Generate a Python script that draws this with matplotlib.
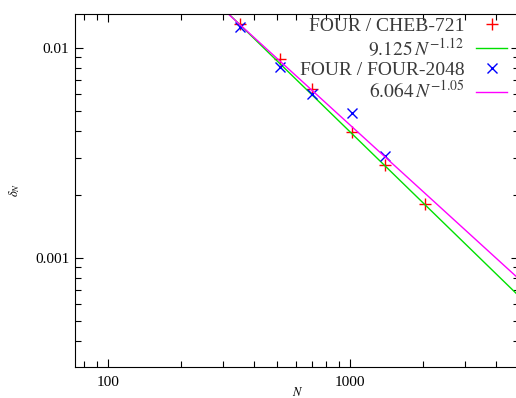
import numpy as np
import matplotlib
matplotlib.use('Agg')
import matplotlib.pyplot as plt
from matplotlib.ticker import NullFormatter, LogLocator

plt.rcParams['font.family'] = ['Liberation Serif', 'DejaVu Serif']
plt.rcParams['mathtext.fontset'] = 'stix'

# data
n_cheb = np.array([350, 512, 700, 1024, 1400, 2048])
d_cheb = np.array([0.0130, 0.00881, 0.00636, 0.00396, 0.00276, 0.00180])
n_four = np.array([350, 512, 700, 1024, 1400])
d_four = np.array([0.0126, 0.00812, 0.00602, 0.00490, 0.00305])

fit_cheb = (9.125, -1.12)
fit_four = (6.064, -1.05)

labels = ['FOUR / CHEB-721', r'$9.125\,N^{-1.12}$',
          'FOUR / FOUR-2048', r'$6.064\,N^{-1.05}$']
xticks = [100, 1000]
xticklabels = ['100', '1000']
yticks = [0.001, 0.01]
yticklabels = ['0.001', '0.01']

fig = plt.figure(figsize=(5.16, 3.98), dpi=100)
ax = fig.add_axes([75/516, 1 - 367.3/398, 444/516, 353.3/398])

nn = np.logspace(np.log10(60), np.log10(6000), 200)
ax.plot(n_cheb, d_cheb, ls='none', marker='+', ms=8, mew=1, color='#ff0000', label=labels[0])
ax.plot(nn, fit_cheb[0]*nn**fit_cheb[1], color='#00e000', lw=1, label=labels[1])
ax.plot(n_four, d_four, ls='none', marker='x', ms=7, mew=1, color='#0000ff', label=labels[2])
ax.plot(nn, fit_four[0]*nn**fit_four[1], color='#ff00ff', lw=1, label=labels[3])

ax.set_xscale('log')
ax.set_yscale('log')
ax.set_xlim(73.1, 5000)
ax.set_ylim(3.01e-4, 0.01447)

ax.set_xticks(xticks, xticklabels)
ax.set_yticks(yticks, yticklabels)
ax.xaxis.set_minor_locator(LogLocator(base=10, subs=np.arange(2, 10)))
ax.yaxis.set_minor_locator(LogLocator(base=10, subs=np.arange(2, 10)))
ax.xaxis.set_minor_formatter(NullFormatter())
ax.yaxis.set_minor_formatter(NullFormatter())
ax.tick_params(which='both', direction='in', top=True, right=True,
               labelsize=11, colors='black')
ax.tick_params(which='major', length=6, width=0.8)
ax.tick_params(which='minor', length=4, width=0.8)
ax.tick_params(axis='x', pad=6)
ax.tick_params(axis='y', pad=4)

ax.set_xlabel(r'$N$', fontsize=9)
ax.set_ylabel(r'$\delta_N$', fontsize=9)
ax.xaxis.set_label_coords(223/444, -19/353.3)
ax.yaxis.set_label_coords(-53/444, 177/353.3)

leg = ax.legend(loc='upper right', bbox_to_anchor=(446/444, 1.03), frameon=False,
                markerfirst=False, fontsize=14, handlelength=1.6,
                handletextpad=0.6, labelspacing=0.09, borderpad=0.2)
for t in leg.get_texts():
    t.set_color('#3a3a3a')

fig.savefig('out.png', dpi=100)
